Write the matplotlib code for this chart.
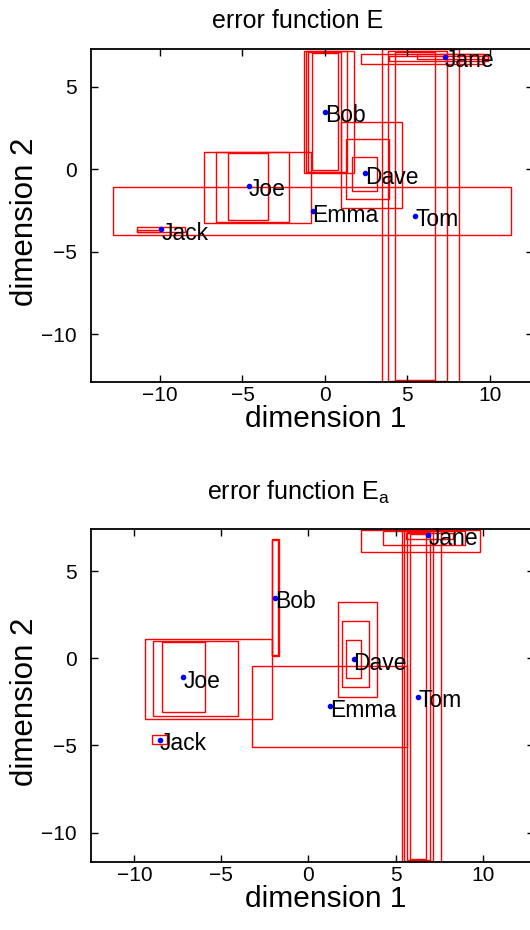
import matplotlib
matplotlib.use('Agg')
import matplotlib.pyplot as plt
from matplotlib.patches import Rectangle
import numpy as np

plt.rcParams['font.family'] = ['Liberation Sans', 'DejaVu Sans']
plt.rcParams['mathtext.fontset'] = 'custom'
plt.rcParams['mathtext.rm'] = 'Liberation Sans'
plt.rcParams['mathtext.it'] = 'Liberation Sans'

names = ['Jane', 'Bob', 'Dave', 'Joe', 'Emma', 'Tom', 'Jack']

# embedding found with error function E
e_x = [7.27, 0.02, 2.42, -4.63, -0.75, 5.46, -9.91]
e_y = [6.82, 3.49, -0.24, -1.01, -2.55, -2.81, -3.64]
# boxes as [x0, x1, y0, y1]
e_boxes = [
    [2.18, 9.67, 6.42, 6.97], [3.89, 9.90, 6.55, 6.90], [5.60, 9.89, 6.68, 6.97],
    [-1.29, 1.77, -0.24, 7.17], [-1.13, 1.33, -0.14, 7.17],
    [-1.01, 0.97, -0.14, 7.09], [-0.81, 0.82, -0.04, 7.03],
    [0.97, 4.65, -2.36, 2.88], [1.27, 3.89, -1.82, 1.82], [1.67, 3.14, -1.30, 0.76],
    [-7.35, -0.85, -3.24, 1.07], [-6.63, -2.16, -3.17, 1.03], [-5.88, -3.47, -3.07, 0.97],
    [-12.83, 11.26, -3.98, -1.09],
    [3.48, 8.11, -12.89, 7.30], [3.84, 7.41, -12.85, 7.20], [4.23, 6.65, -12.75, 7.10],
    [-11.38, -8.50, -3.82, -3.48], [-11.38, -10.00, -3.82, -3.70],
]

# embedding found with error function E_a
ea_x = [6.89, -1.90, 2.59, -7.19, 1.22, 6.30, -8.53]
ea_y = [7.10, 3.48, -0.04, -1.09, -2.76, -2.21, -4.66]
ea_boxes = [
    [3.00, 9.82, 6.13, 7.35], [4.28, 9.00, 6.50, 7.30], [5.60, 8.30, 6.85, 7.20],
    [-2.12, -1.70, 0.12, 6.88], [-2.08, -1.74, 0.18, 6.82],
    [1.72, 3.93, -2.21, 3.25], [1.95, 3.47, -1.67, 2.16], [2.18, 3.04, -1.13, 1.07],
    [-9.36, -2.12, -3.49, 1.11], [-8.90, -4.03, -3.28, 1.01], [-8.44, -5.93, -3.07, 0.92],
    [-3.23, 5.65, -5.06, -0.46],
    [5.36, 7.62, -11.69, 7.43], [5.46, 7.14, -11.65, 7.33],
    [5.65, 7.00, -11.60, 7.24], [5.84, 6.76, -11.50, 7.15],
    [-8.97, -8.11, -4.93, -4.41],
]

W, H = 530, 930
fig = plt.figure(figsize=(W / 100, H / 100), dpi=100)


def draw_panel(rect_px, xs, ys, boxes, title, title_pad):
    left, top, width, height = rect_px
    ax = fig.add_axes([left / W, 1 - (top + height) / H, width / W, height / H])
    for x0, x1, y0, y1 in boxes:
        ax.add_patch(Rectangle((x0, y0), x1 - x0, y1 - y0, fill=False,
                               edgecolor='red', linewidth=1.0))
    ax.plot(xs, ys, '.', color='blue', markersize=6)
    for n, x, y in zip(names, xs, ys):
        ax.annotate(n, (x, y), xytext=(0, -7.5), textcoords='offset points',
                    fontsize=16.5, ha='left', va='baseline')

    b = np.array(boxes)
    ymin, ymax = b[:, 2].min(), b[:, 3].max()
    xmid = (b[:, 0].min() + b[:, 1].max()) / 2
    # equal units on both axes, tight in y
    half = (ymax - ymin) * width / height / 2
    ax.set_xlim(xmid - half, xmid + half)
    ax.set_ylim(ymin, ymax)

    ax.set_xticks([-10, -5, 0, 5, 10])
    ax.set_yticks([-10, -5, 0, 5])
    ax.tick_params(direction='in', top=True, right=True, length=5, width=1,
                   labelsize=15)
    ax.tick_params(axis='x', pad=3)
    ax.tick_params(axis='y', pad=10)
    for s in ax.spines.values():
        s.set_linewidth(1.3)
    ax.set_xlabel('dimension 1', fontsize=21.5)
    ax.set_ylabel('dimension 2', fontsize=22.5)
    ax.xaxis.set_label_coords((326 - left) / width, -37 / height)
    ax.xaxis.label.set_va('center')
    ax.yaxis.set_label_coords(-(91 - 25) / width, 0.48)
    ax.yaxis.label.set_va('center')
    ax.set_title(title, fontsize=18, pad=title_pad)
    ax.title.set_x((298 - left) / width)
    return ax


draw_panel((91, 49, 442, 333), e_x, e_y, e_boxes, 'error function E', 15)
draw_panel((91, 529, 443, 333), ea_x, ea_y, ea_boxes,
           r'error function E$_{\mathrm{a}}$', 21)

fig.savefig('out.png', dpi=100)
